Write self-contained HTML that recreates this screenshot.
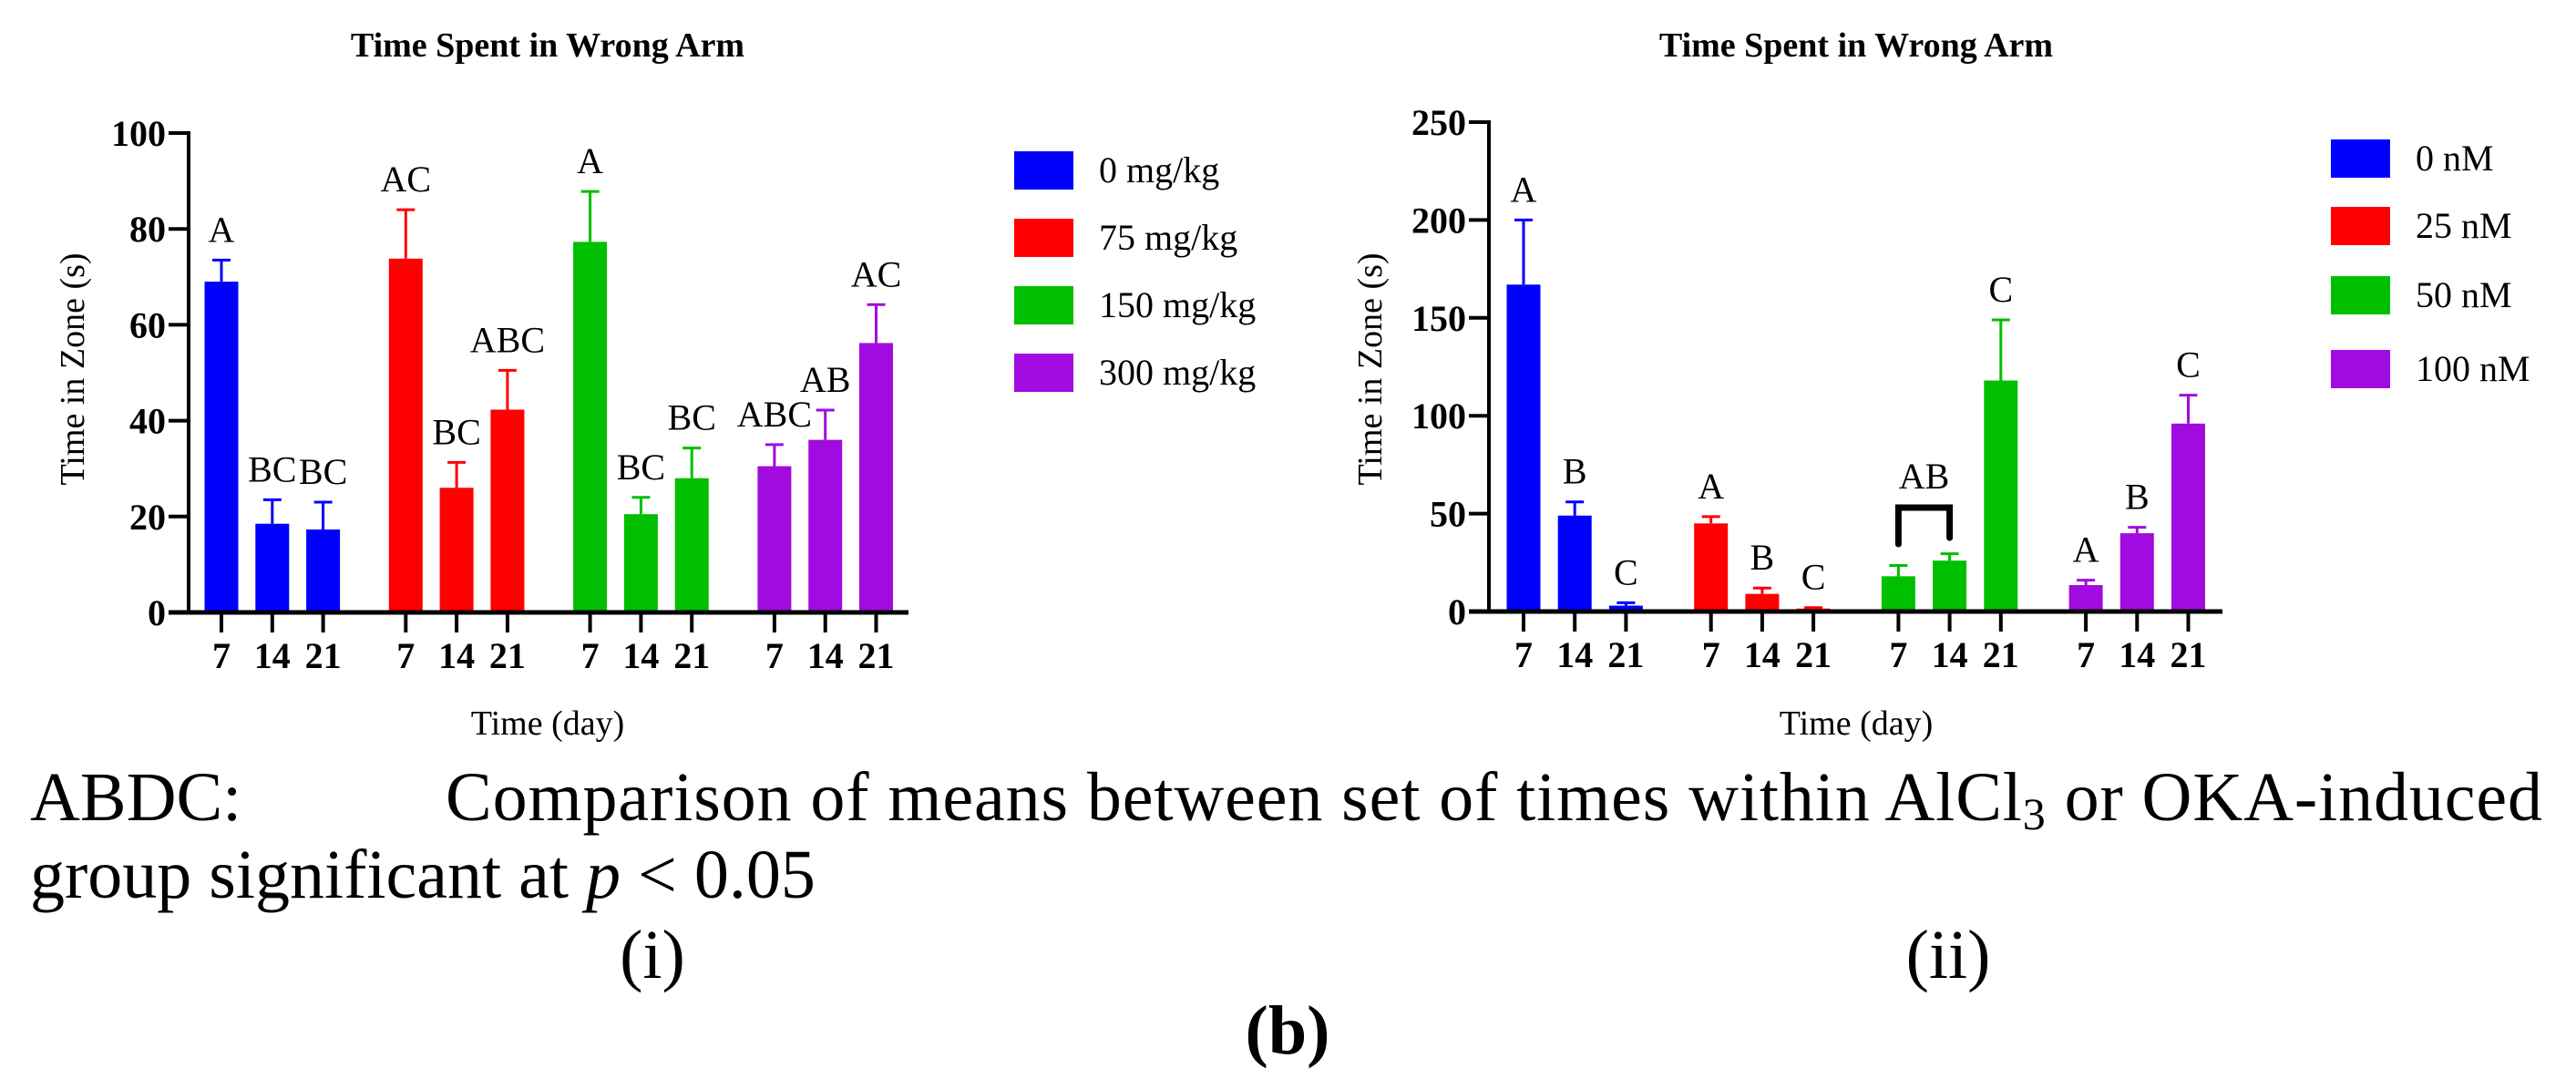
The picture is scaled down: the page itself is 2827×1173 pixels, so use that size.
<!DOCTYPE html>
<html><head><meta charset="utf-8"><style>
html,body{margin:0;padding:0;background:#fff}
svg{display:block}
svg text{font-family:"Liberation Serif","Times New Roman","DejaVu Serif",serif}
</style></head><body>
<svg id="fig" width="2827" height="1173" viewBox="0 0 2827 1173" xmlns="http://www.w3.org/2000/svg" font-family="Liberation Serif, serif">
<g id="c1"></g>
<g id="c2"></g>
<text x="33" y="900" font-size="76">ABDC:</text>
<text x="489" y="900" font-size="76" textLength="2301" lengthAdjust="spacing">Comparison of means between set of times within AlCl<tspan font-size="50" dy="10">3</tspan><tspan dy="-10"> or OKA-induced</tspan></text>
<text x="33" y="985" font-size="76">group significant at <tspan font-style="italic">p</tspan> &lt; 0.05</text>
<text x="716" y="1073" font-size="76" text-anchor="middle">(i)</text>
<text x="2138" y="1073" font-size="76" text-anchor="middle">(ii)</text>
<text x="1413" y="1156" font-size="76" font-weight="bold" text-anchor="middle">(b)</text>
</svg>
<script>
const colors = ["#0000ff","#ff0000","#00bf00","#a10bdf"];
const ticksDays = ["7","14","21"];
// chart i
const vals1 = [69,18.5,17.3, 73.8,26,42.3, 77.3,20.5,28, 30.5,36,56.2];
const errs1 = [4.5,5,5.7, 10.2,5.3,8.2, 10.5,3.5,6.3, 4.5,6.2,8];
const lbls1 = ["A","BC","BC","AC","BC","ABC","A","BC","BC","ABC","AB","AC"];
const yTicks1 = [0,20,40,60,80,100];
const legend1 = ["0 mg/kg","75 mg/kg","150 mg/kg","300 mg/kg"];
// chart ii
const vals2 = [167,49,3, 45,9,1.5, 18,26,118, 13.5,40,96];
const errs2 = [33,7,1.5, 3.5,3,0.5, 5.5,3.5,31, 2.5,3,14.5];
const lbls2 = ["A","B","C","A","B","C","","","C","A","B","C"];
const yTicks2 = [0,50,100,150,200,250];
const legend2 = ["0 nM","25 nM","50 nM","100 nM"];

const NS="http://www.w3.org/2000/svg";
function mk(parent,tag,attrs,text){const e=document.createElementNS(NS,tag);for(const k in attrs)e.setAttribute(k,attrs[k]);if(text!==undefined)e.textContent=text;parent.appendChild(e);return e;}

function draw(g,cfg,vals,errs,lbls,yTicks,legend){
  const y=v=>cfg.y0-(v-0)/(cfg.ymax)*(cfg.y0-cfg.yTop);
  const x=i=>cfg.x0+Math.floor(i/3)*cfg.groupStep+(i%3)*cfg.barStep;
  let t=mk(g,'text',{x:cfg.titleX,y:62,'font-size':38,'font-weight':'bold','text-anchor':'middle'},'Time Spent in Wrong Arm');
  
  
  vals.forEach((v,i)=>{
    const c=colors[Math.floor(i/3)];
    const cx=x(i);
    const r=mk(g,'rect',{x:cx-18.5,y:y(v),width:37,height:cfg.y0-y(v),fill:c});
    
    
    const et=y(v+errs[i]);
    const e=mk(g,'path',{d:`M${cx} ${y(v)}V${et}M${cx-10} ${et}H${cx+10}`,stroke:c,'stroke-width':3,fill:'none'});
    
    
    if(lbls[i]){
      const l=mk(g,'text',{x:cx,y:et-20,'font-size':40,'text-anchor':'middle'},lbls[i]);
      
      
    }
    const tk=mk(g,'line',{x1:cx,x2:cx,y1:cfg.y0,y2:cfg.y0+22,stroke:'#000','stroke-width':4});
    
    
    const tl=mk(g,'text',{x:cx,y:cfg.y0+61,'font-size':40,'font-weight':'bold','text-anchor':'middle'},ticksDays[i%3]);
    
    
  });
  const ya=mk(g,'line',{x1:cfg.ax,x2:cfg.ax,y1:cfg.yTop-2,y2:cfg.y0,stroke:'#000','stroke-width':4});
  
  
  const xa=mk(g,'line',{x1:cfg.ax-22,x2:cfg.xEnd,y1:cfg.y0,y2:cfg.y0,stroke:'#000','stroke-width':5});
  
  
  yTicks.forEach(v=>{
    const tk=mk(g,'line',{x1:cfg.ax-22,x2:cfg.ax,y1:y(v),y2:y(v),stroke:'#000','stroke-width':4});
    
    
    const tl=mk(g,'text',{x:cfg.ax-25,y:y(v)+14,'font-size':40,'font-weight':'bold','text-anchor':'end'},String(v));
    
    
  });
  const yt=mk(g,'text',{x:0,y:0,'font-size':38,'text-anchor':'middle',transform:`translate(${cfg.yTitleX},405) rotate(-90)`},'Time in Zone (s)');
  
  
  const xt=mk(g,'text',{x:cfg.titleX,y:806,'font-size':38,'text-anchor':'middle'},'Time (day)');
  
  
  legend.forEach((s,i)=>{
    const ly=cfg.legY[i];
    const sw=mk(g,'rect',{x:cfg.legX,y:ly,width:65,height:42,fill:colors[i]});
    
    
    const lt=mk(g,'text',{x:cfg.legX+93,y:ly+34,'font-size':40},s);
    
    
  });
  return {x,y};
}
draw(document.getElementById('c1'),{x0:243,groupStep:202.3,barStep:55.8,y0:672,yTop:146,ymax:100,ax:207,xEnd:997,titleX:601,yTitleX:92,legX:1113,legY:[166,240,314,388]},vals1,errs1,lbls1,yTicks1,legend1);
const a2=draw(document.getElementById('c2'),{x0:1672,groupStep:205.7,barStep:56.2,y0:671,yTop:134,ymax:250,ax:1634,xEnd:2439,titleX:2037,yTitleX:1516,legX:2558,legY:[153,227,303,384]},vals2,errs2,lbls2,yTicks2,legend2);
const g2=document.getElementById('c2');
const bx1=a2.x(6), bx2=a2.x(7);
const br=mk(g2,'path',{d:`M${bx1} 597V557H${bx2}V590`,stroke:'#000','stroke-width':7,fill:'none','stroke-linecap':'round'});


const ab=mk(g2,'text',{x:(bx1+bx2)/2,y:536,'font-size':40,'text-anchor':'middle'},'AB');


</script>
</body></html>
